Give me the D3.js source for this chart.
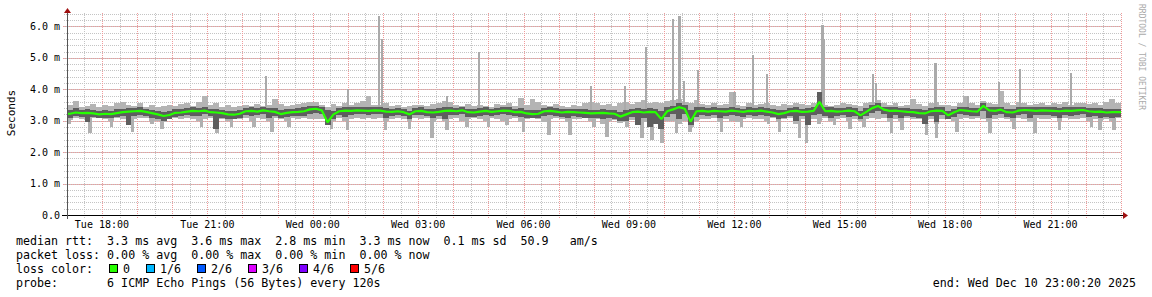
<!DOCTYPE html>
<html>
<head>
<meta charset="utf-8">
<script src="https://cdn.jsdelivr.net/npm/d3@7"></script>
<style>
  body { margin: 0; background: #fff; }
  svg { display: block; }
  text { font-family: "DejaVu Sans Mono", monospace; }
</style>
</head>
<body>
<div id="chart"></div>
<script>
// smokeping style graph, 10 minute buckets, Tue 17:00:20 -> Wed 23:00:20 (UTC)
var startTime = Date.UTC(2025, 11, 9, 17, 0, 20);
var endTime = Date.UTC(2025, 11, 10, 23, 0, 20);
var stepMinutes = 10;

// median rtt (ms)
var median = [
  3.22, 3.26, 3.24, 3.25, 3.23, 3.20, 3.22, 3.21, 3.24, 3.27,
  3.29, 3.30, 3.31, 3.28, 3.24, 3.20, 3.15, 3.18, 3.25, 3.26,
  3.29, 3.31, 3.30, 3.32, 3.27, 3.26, 3.24, 3.20, 3.19, 3.22,
  3.30, 3.31, 3.29, 3.33, 3.30, 3.28, 3.21, 3.25, 3.27, 3.28,
  3.30, 3.36, 3.38, 3.33, 2.95, 3.20, 3.30, 3.32, 3.31, 3.33,
  3.32, 3.31, 3.33, 3.32, 3.29, 3.28, 3.30, 3.27, 3.20, 3.30,
  3.31, 3.27, 3.26, 3.28, 3.31, 3.32, 3.30, 3.33, 3.27, 3.26,
  3.29, 3.31, 3.28, 3.30, 3.32, 3.31, 3.27, 3.28, 3.23, 3.21,
  3.22, 3.30, 3.31, 3.29, 3.26, 3.28, 3.27, 3.26, 3.25, 3.23,
  3.24, 3.25, 3.23, 3.22, 3.13, 3.20, 3.27, 3.29, 3.26, 3.28,
  3.27, 3.05, 3.30, 3.36, 3.43, 3.38, 2.97, 3.30, 3.31, 3.29,
  3.31, 3.30, 3.29, 3.32, 3.30, 3.28, 3.31, 3.30, 3.32, 3.29,
  3.26, 3.21, 3.24, 3.30, 3.31, 3.28, 3.29, 3.31, 3.60, 3.30,
  3.31, 3.29, 3.30, 3.32, 3.30, 3.17, 3.28, 3.40, 3.47, 3.35,
  3.31, 3.32, 3.30, 3.28, 3.27, 3.24, 3.23, 3.30, 3.32, 3.31,
  3.17, 3.27, 3.34, 3.32, 3.30, 3.29, 3.47, 3.33, 3.31, 3.35,
  3.27, 3.26, 3.32, 3.34, 3.33, 3.31, 3.33, 3.32, 3.31, 3.30,
  3.32, 3.31, 3.33, 3.34, 3.30, 3.28, 3.29, 3.26, 3.27, 3.27
];

// fastest / slowest ping of each bucket (ms)
var pingMin = [
  3.02, 3.08, 3.05, 2.95, 3.08, 3.10, 3.05, 3.00, 3.08, 3.05,
  2.95, 3.06, 3.10, 3.10, 3.00, 2.98, 2.95, 3.04, 3.08, 3.06,
  3.08, 3.05, 3.00, 3.06, 3.10, 2.92, 3.05, 3.00, 3.06, 3.04,
  3.08, 3.00, 3.10, 3.06, 2.98, 3.08, 3.05, 3.00, 3.08, 3.06,
  3.08, 3.05, 3.04, 3.06, 2.85, 2.98, 3.08, 2.98, 3.05, 3.08,
  3.06, 3.10, 3.05, 3.08, 2.98, 3.06, 3.10, 3.05, 2.98, 3.08,
  3.05, 3.08, 2.95, 3.06, 2.98, 3.05, 3.08, 3.00, 3.05, 3.08,
  3.06, 3.00, 3.08, 3.05, 3.00, 3.06, 3.08, 2.95, 3.05, 3.08,
  3.05, 2.95, 3.06, 3.08, 3.05, 2.95, 3.06, 3.05, 3.08, 3.00,
  3.05, 2.90, 3.00, 3.02, 2.92, 2.95, 3.02, 2.85, 2.95, 2.80,
  2.88, 2.75, 3.00, 2.98, 2.90, 3.00, 2.80, 3.00, 3.05, 3.06,
  3.08, 2.95, 3.05, 3.00, 2.95, 3.06, 3.08, 3.05, 3.06, 3.00,
  3.08, 2.95, 3.04, 3.08, 2.90, 3.05, 2.85, 3.05, 3.00, 3.08,
  3.00, 3.06, 3.08, 2.98, 3.05, 3.00, 3.06, 3.08, 3.05, 3.08,
  2.95, 3.06, 2.98, 3.08, 3.05, 3.06, 2.92, 3.05, 2.90, 3.06,
  3.08, 2.98, 3.05, 3.08, 3.06, 3.08, 3.06, 2.95, 3.05, 3.08,
  3.06, 3.00, 3.08, 3.05, 2.95, 3.08, 3.05, 3.06, 3.08, 2.98,
  3.08, 3.06, 3.05, 3.08, 3.00, 3.05, 2.98, 3.06, 3.00, 3.08
];
var pingMax = [
  3.50, 3.62, 3.45, 3.48, 3.52, 3.44, 3.50, 3.47, 3.55, 3.60,
  3.50, 3.47, 3.55, 3.45, 3.50, 3.42, 3.46, 3.50, 3.48, 3.52,
  3.55, 3.48, 3.60, 3.78, 3.50, 3.55, 3.45, 3.50, 3.44, 3.48,
  3.50, 3.47, 3.52, 3.48, 3.50, 3.70, 3.52, 3.47, 3.50, 3.52,
  3.55, 3.58, 3.60, 3.50, 3.45, 3.52, 3.48, 3.55, 3.50, 3.55,
  3.62, 3.78, 3.50, 3.50, 3.55, 3.48, 3.50, 3.45, 3.48, 3.50,
  3.50, 3.47, 3.52, 3.55, 3.62, 3.58, 3.50, 3.48, 3.52, 3.47,
  3.50, 3.48, 3.45, 3.52, 3.50, 3.55, 3.48, 3.72, 3.50, 3.68,
  3.60, 3.50, 3.47, 3.52, 3.48, 3.45, 3.50, 3.48, 3.55, 3.60,
  3.55, 3.50, 3.52, 3.48, 3.55, 3.60, 3.52, 3.58, 3.65, 3.55,
  3.60, 3.55, 3.62, 3.65, 3.70, 3.60, 3.55, 3.65, 3.52, 3.50,
  3.55, 3.50, 3.52, 3.90, 3.50, 3.48, 3.55, 3.50, 3.52, 3.55,
  3.50, 3.48, 3.52, 3.50, 3.55, 3.52, 3.50, 3.55, 3.62, 3.50,
  3.48, 3.50, 3.55, 3.52, 3.50, 3.48, 3.55, 3.60, 3.65, 3.55,
  3.50, 3.55, 3.48, 3.50, 3.70, 3.52, 3.48, 3.55, 3.58, 3.50,
  3.50, 3.48, 3.55, 3.80, 3.55, 3.50, 3.62, 3.55, 3.52, 3.95,
  3.55, 3.50, 3.58, 3.55, 3.50, 3.52, 3.55, 3.50, 3.55, 3.52,
  3.60, 3.50, 3.55, 3.55, 3.52, 3.55, 3.50, 3.58, 3.70, 3.55
];

// inner pings (2nd fastest / 2nd slowest), darker smoke
var innerLow = [
  3.10, 3.14, 3.12, 2.95, 3.12, 3.08, 3.10, 3.08, 3.12, 3.15,
  2.85, 3.16, 3.18, 3.15, 3.10, 3.05, 3.00, 3.06, 3.13, 3.14,
  3.17, 3.16, 3.15, 3.20, 3.14, 2.75, 3.10, 3.06, 3.05, 3.10,
  3.18, 3.15, 3.17, 3.20, 3.10, 3.16, 3.08, 3.12, 3.15, 3.16,
  3.16, 3.22, 3.25, 3.20, 2.85, 3.05, 3.18, 3.12, 3.18, 3.20,
  3.20, 3.18, 3.20, 3.20, 3.10, 3.15, 3.18, 3.14, 3.05, 3.18,
  3.18, 3.15, 3.10, 3.15, 3.05, 3.18, 3.17, 3.20, 3.12, 3.13,
  3.16, 3.18, 3.15, 3.17, 3.20, 3.18, 3.14, 3.12, 3.08, 3.08,
  3.10, 3.15, 3.18, 3.16, 3.12, 3.10, 3.14, 3.12, 3.10, 3.08,
  3.10, 3.05, 3.08, 3.06, 2.98, 3.00, 3.12, 2.85, 3.10, 2.80,
  2.90, 2.75, 3.12, 3.20, 3.05, 3.20, 2.85, 3.12, 3.18, 3.16,
  3.18, 3.10, 3.15, 3.18, 3.16, 3.12, 3.18, 3.16, 3.18, 3.15,
  3.12, 3.05, 3.10, 3.16, 3.00, 3.15, 2.85, 3.18, 3.20, 3.16,
  3.10, 3.15, 3.17, 3.12, 3.16, 3.05, 3.14, 3.25, 3.30, 3.20,
  3.10, 3.18, 3.10, 3.14, 3.12, 3.10, 2.90, 3.16, 2.95, 3.18,
  3.05, 3.12, 3.20, 3.18, 3.16, 3.15, 3.30, 3.10, 3.17, 3.20,
  3.12, 3.10, 3.18, 3.20, 3.10, 3.17, 3.18, 3.17, 3.16, 3.10,
  3.18, 3.16, 3.19, 3.20, 3.12, 3.14, 3.10, 3.12, 3.10, 3.12
];
var innerHigh = [
  3.35, 3.40, 3.35, 3.36, 3.34, 3.30, 3.33, 3.32, 3.36, 3.38,
  3.40, 3.40, 3.42, 3.38, 3.35, 3.30, 3.28, 3.30, 3.36, 3.37,
  3.40, 3.42, 3.41, 3.45, 3.38, 3.37, 3.35, 3.32, 3.30, 3.33,
  3.40, 3.42, 3.40, 3.44, 3.40, 3.40, 3.33, 3.36, 3.38, 3.39,
  3.42, 3.46, 3.48, 3.43, 3.35, 3.32, 3.40, 3.43, 3.42, 3.43,
  3.43, 3.42, 3.44, 3.42, 3.40, 3.38, 3.41, 3.38, 3.32, 3.40,
  3.42, 3.38, 3.36, 3.40, 3.42, 3.43, 3.40, 3.44, 3.38, 3.37,
  3.40, 3.42, 3.38, 3.40, 3.43, 3.42, 3.38, 3.40, 3.34, 3.33,
  3.34, 3.40, 3.42, 3.40, 3.37, 3.38, 3.38, 3.37, 3.36, 3.34,
  3.35, 3.37, 3.34, 3.33, 3.28, 3.35, 3.38, 3.40, 3.38, 3.40,
  3.38, 3.30, 3.42, 3.48, 3.55, 3.50, 3.35, 3.42, 3.42, 3.40,
  3.42, 3.40, 3.40, 3.43, 3.40, 3.38, 3.42, 3.41, 3.43, 3.40,
  3.37, 3.33, 3.35, 3.40, 3.42, 3.38, 3.40, 3.42, 3.90, 3.42,
  3.42, 3.40, 3.41, 3.43, 3.40, 3.30, 3.40, 3.50, 3.56, 3.45,
  3.42, 3.43, 3.40, 3.39, 3.38, 3.36, 3.35, 3.40, 3.43, 3.42,
  3.30, 3.38, 3.44, 3.43, 3.40, 3.40, 3.56, 3.44, 3.42, 3.45,
  3.38, 3.37, 3.43, 3.45, 3.44, 3.42, 3.44, 3.43, 3.42, 3.41,
  3.43, 3.42, 3.44, 3.45, 3.41, 3.39, 3.40, 3.37, 3.38, 3.38
];

// single slow pings (minutes after start, ms)
var spikeMinutes = [338, 478, 531, 536, 647, 702, 893, 951, 987, 1033, 1044, 1052, 1076,
                    1138, 1170, 1194, 1288, 1291, 1375, 1380, 1481, 1537, 1590, 1626, 1713];
var spikeValues  = [4.42, 4.02, 6.33, 5.60, 3.80, 5.20, 4.10, 4.10, 5.35, 6.22, 6.33, 4.25, 4.62,
                    3.90, 5.10, 4.50, 6.05, 5.60, 4.50, 4.20, 4.85, 3.80, 4.22, 4.65, 4.53];

// single fast pings (minutes after start, ms)
var dipMinutes = [0, 36, 73, 109, 142, 159, 227, 253, 278, 316, 347, 376, 449, 476, 541, 582,
                  620, 646, 680, 717, 748, 777, 820, 856, 897, 919, 953, 979, 996, 1013, 1038,
                  1061, 1115, 1149, 1195, 1214, 1248, 1260, 1281, 1308, 1334, 1358, 1405, 1423,
                  1465, 1482, 1517, 1573, 1614, 1650, 1692, 1747, 1761, 1785];
var dipValues  = [2.90, 2.60, 2.80, 2.64, 2.90, 2.75, 2.80, 2.60, 2.80, 2.80, 2.64, 2.80, 2.75, 2.70, 2.70, 2.75,
                  2.44, 2.70, 2.80, 2.80, 2.85, 2.64, 2.53, 2.53, 2.80, 2.48, 2.80, 2.44, 2.37, 2.28, 2.60,
                  2.64, 2.64, 2.80, 2.90, 2.64, 2.44, 2.28, 2.90, 2.85, 2.75, 2.80, 2.60, 2.70,
                  2.53, 2.44, 2.64, 2.60, 2.75, 2.60, 2.70, 2.80, 2.70, 2.70];

var yMajorTicks = [0, 1, 2, 3, 4, 5, 6];
var lossLabels = ['0', '1/6', '2/6', '3/6', '4/6', '5/6'];
var lossColors = ['#26ff00', '#00b8ff', '#0059ff', '#dd00ff', '#7e00ff', '#ff0000'];

var statLines = [
  'median rtt:  3.3 ms avg  3.6 ms max  2.8 ms min  3.3 ms now  0.1 ms sd  50.9   am/s',
  'packet loss: 0.00 % avg  0.00 % max  0.00 % min  0.00 % now'
];
var probeLine = 'probe:       6 ICMP Echo Pings (56 Bytes) every 120s';
var endLine = 'end: Wed Dec 10 23:00:20 2025';

var W = 1152, H = 297;
var svg = d3.select('#chart').append('svg')
  .attr('width', W)
  .attr('height', H);

svg.append('rect').attr('width', W).attr('height', H).attr('fill', '#fff');

var x = d3.scaleUtc()
  .domain([new Date(startTime), new Date(endTime)])
  .range([67, 1121]);

var y = d3.scaleLinear()
  .domain([0, 6.4])
  .range([215, 13.8]);

var t = function(i) { return new Date(startTime + i * stepMinutes * 60000); };
var tm = function(m) { return new Date(startTime + m * 60000); };

// grid
var grid = svg.append('g');
var minorX = d3.utcMinute.every(30).range(x.domain()[0], x.domain()[1]);
var majorX = d3.utcHour.every(1).range(x.domain()[0], x.domain()[1]);
var minorY = d3.range(0, 33).map(function(k) { return k * 0.2; });

grid.selectAll('.mx').data(minorX).enter().append('line')
  .attr('x1', function(d) { return Math.round(x(d)) + 0.5; })
  .attr('x2', function(d) { return Math.round(x(d)) + 0.5; })
  .attr('y1', 13).attr('y2', 218)
  .attr('stroke', '#c4c4c4').attr('stroke-dasharray', '1,1');

grid.selectAll('.my').data(minorY).enter().append('line')
  .attr('x1', 64).attr('x2', 1121)
  .attr('y1', function(d) { return Math.round(y(d)) + 0.5; })
  .attr('y2', function(d) { return Math.round(y(d)) + 0.5; })
  .attr('stroke', '#c4c4c4').attr('stroke-dasharray', '1,1');

grid.selectAll('.Mx').data(majorX).enter().append('line')
  .attr('x1', function(d) { return Math.round(x(d)) + 0.5; })
  .attr('x2', function(d) { return Math.round(x(d)) + 0.5; })
  .attr('y1', 13).attr('y2', 219)
  .attr('stroke', '#f09a9a').attr('stroke-dasharray', '1,1');

grid.selectAll('.My').data(yMajorTicks).enter().append('line')
  .attr('x1', 63).attr('x2', 1121)
  .attr('y1', function(d) { return Math.round(y(d)) + 0.5; })
  .attr('y2', function(d) { return Math.round(y(d)) + 0.5; })
  .attr('stroke', '#f09a9a').attr('stroke-dasharray', '1,1');

// smoke
var smoke = svg.append('g').attr('shape-rendering', 'crispEdges');

smoke.selectAll('.outer').data(median).enter().append('rect')
  .attr('x', function(d, i) { return x(t(i)); })
  .attr('width', function(d, i) { return x(t(i + 1)) - x(t(i)); })
  .attr('y', function(d, i) { return y(pingMax[i]); })
  .attr('height', function(d, i) { return y(pingMin[i]) - y(pingMax[i]); })
  .attr('fill', '#b4b4b4');

smoke.selectAll('.spike').data(spikeMinutes).enter().append('rect')
  .attr('x', function(d) { return x(tm(d)); })
  .attr('width', function(d) { return x(tm(d + 4)) - x(tm(d)); })
  .attr('y', function(d, i) { return y(spikeValues[i]); })
  .attr('height', function(d, i) { return y(3.3) - y(spikeValues[i]); })
  .attr('fill', '#aaaaaa');

smoke.selectAll('.dip').data(dipMinutes).enter().append('rect')
  .attr('x', function(d) { return x(tm(d)); })
  .attr('width', function(d) { return x(tm(d + 6)) - x(tm(d)); })
  .attr('y', y(3.1))
  .attr('height', function(d, i) { return y(dipValues[i]) - y(3.1); })
  .attr('fill', '#b0b0b0');

smoke.selectAll('.inner').data(median).enter().append('rect')
  .attr('x', function(d, i) { return x(t(i)); })
  .attr('width', function(d, i) { return x(t(i + 1)) - x(t(i)); })
  .attr('y', function(d, i) { return y(innerHigh[i]); })
  .attr('height', function(d, i) { return y(innerLow[i]) - y(innerHigh[i]); })
  .attr('fill', '#5e5e5e');

// median line through bucket centres, held flat to the plot edges
var medPts = median.map(function(v, i) {
  return [x(new Date(startTime + (i + 0.5) * stepMinutes * 60000)), y(v)];
});
medPts.unshift([x(t(0)), y(median[0])]);
medPts.push([x(t(median.length)), y(median[median.length - 1])]);
svg.append('path')
  .attr('d', d3.line()(medPts))
  .attr('fill', 'none')
  .attr('stroke', lossColors[0])
  .attr('stroke-width', 2.2)
  .attr('stroke-linejoin', 'bevel');

// axes
svg.append('line').attr('x1', 62).attr('x2', 1124).attr('y1', 215.5).attr('y2', 215.5)
  .attr('stroke', '#000');
svg.append('line').attr('x1', 67.5).attr('x2', 67.5).attr('y1', 12).attr('y2', 219)
  .attr('stroke', '#555');
svg.append('path').attr('d', 'M1123,212 L1128,215.5 L1123,219 Z').attr('fill', '#a01010');
svg.append('path').attr('d', 'M64,13 L67.5,8 L71,13 Z').attr('fill', '#a01010');

// tick labels
svg.selectAll('.xl').data(d3.utcHour.every(3).range(x.domain()[0], x.domain()[1])).enter()
  .append('text')
  .attr('x', function(d) { return x(d); })
  .attr('y', 228)
  .attr('text-anchor', 'middle')
  .attr('font-size', '10px')
  .text(d3.utcFormat('%a %H:%M'));

svg.selectAll('.yl').data(yMajorTicks).enter().append('text')
  .attr('x', 60)
  .attr('y', function(d) { return y(d); })
  .attr('dy', '0.35em')
  .attr('text-anchor', 'end')
  .attr('font-size', '10px')
  .text(function(d) { return d === 0 ? '0.0' : d.toFixed(1) + ' m'; });

svg.append('text')
  .attr('transform', 'translate(15,113) rotate(-90)')
  .attr('text-anchor', 'middle')
  .attr('font-size', '11px')
  .text('Seconds');

svg.append('text')
  .attr('transform', 'translate(1139,4) rotate(90)')
  .attr('font-size', '8px')
  .attr('fill', '#aaa')
  .text('RRDTOOL / TOBI OETIKER');

// legend
var legendFont = '11.65px';
svg.selectAll('.stat').data(statLines).enter().append('text')
  .attr('x', 16)
  .attr('y', function(d, i) { return 245 + i * 14; })
  .attr('font-size', legendFont)
  .style('white-space', 'pre')
  .text(function(d) { return d; });

svg.append('text')
  .attr('x', 16).attr('y', 273)
  .attr('font-size', legendFont)
  .text('loss color:');

var bx = 109;
lossLabels.forEach(function(lbl, i) {
  svg.append('rect')
    .attr('x', bx + 0.5).attr('y', 264.5)
    .attr('width', 8).attr('height', 8)
    .attr('fill', lossColors[i])
    .attr('stroke', '#000');
  svg.append('text')
    .attr('x', bx + 14).attr('y', 273)
    .attr('font-size', legendFont)
    .text(lbl);
  bx += 14 + 7 * lbl.length + 16;
});

svg.append('text')
  .attr('x', 16).attr('y', 287)
  .attr('font-size', legendFont)
  .style('white-space', 'pre')
  .text(probeLine);

svg.append('text')
  .attr('x', 1136).attr('y', 287)
  .attr('text-anchor', 'end')
  .attr('font-size', legendFont)
  .text(endLine);
</script>
</body>
</html>
